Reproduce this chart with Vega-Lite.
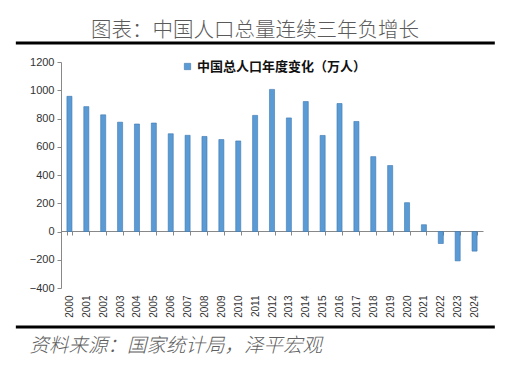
{
  "$schema": "https://vega.github.io/schema/vega-lite/v6.json",
  "autosize": "none",
  "width": 422,
  "height": 226,
  "padding": {"left": 61, "top": 62, "right": 28, "bottom": 77},
  "background": "white",
  "title": {
    "text": "图表：中国人口总量连续三年负增长",
    "font": "Noto Sans CJK SC",
    "fontSize": 20.5,
    "fontWeight": 300,
    "color": "#5a5a5a",
    "anchor": "middle",
    "frame": "group",
    "dx": -17,
    "dy": 26,
    "offset": 26
  },
  "config": {"view": {"stroke": null}},
  "data": {
    "values": [
      {"year": "2000", "value": 957},
      {"year": "2001", "value": 884},
      {"year": "2002", "value": 826},
      {"year": "2003", "value": 774},
      {"year": "2004", "value": 761},
      {"year": "2005", "value": 768},
      {"year": "2006", "value": 692},
      {"year": "2007", "value": 681},
      {"year": "2008", "value": 673},
      {"year": "2009", "value": 651},
      {"year": "2010", "value": 641},
      {"year": "2011", "value": 822},
      {"year": "2012", "value": 1006},
      {"year": "2013", "value": 804},
      {"year": "2014", "value": 920},
      {"year": "2015", "value": 680},
      {"year": "2016", "value": 906},
      {"year": "2017", "value": 779},
      {"year": "2018", "value": 530},
      {"year": "2019", "value": 467},
      {"year": "2020", "value": 204},
      {"year": "2021", "value": 48},
      {"year": "2022", "value": -85},
      {"year": "2023", "value": -208},
      {"year": "2024", "value": -139}
    ]
  },
  "layer": [
    {
      "mark": {"type": "bar", "stroke": "#3D77AE", "strokeWidth": 0.6},
      "encoding": {
        "x": {
          "field": "year",
          "type": "ordinal",
          "scale": {"paddingInner": 0.7, "paddingOuter": 0.35},
          "axis": {
            "offset": -57,
            "tickBand": "extent",
            "domainColor": "#888888",
            "tickColor": "#888888",
            "tickSize": 4,
            "labelAngle": -90,
            "labelFont": "Liberation Sans",
            "labelFontSize": 10,
            "labelColor": "#333333",
            "labelPadding": 60,
            "title": "资料来源：国家统计局，泽平宏观",
            "titleFont": "Noto Sans CJK SC",
            "titleFontSize": 19.5,
            "titleFontWeight": 300,
            "titleFontStyle": "italic",
            "titleColor": "#606060",
            "titleAnchor": "start",
            "titleAlign": "left",
            "titleBaseline": "alphabetic",
            "titleX": -32,
            "titleY": 120
          }
        },
        "y": {
          "field": "value",
          "type": "quantitative",
          "scale": {"domain": [-400, 1200], "nice": false},
          "axis": {
            "title": null,
            "values": [-400, -200, 0, 200, 400, 600, 800, 1000, 1200],
            "format": "d",
            "labelOverlap": false,
            "grid": false,
            "domainColor": "#888888",
            "tickColor": "#888888",
            "tickSize": 4,
            "labelFont": "Liberation Sans",
            "labelFontSize": 11,
            "labelColor": "#333333",
            "labelPadding": 3
          }
        },
        "color": {
          "datum": "中国总人口年度变化（万人）",
          "scale": {"range": ["#5B9BD5"]},
          "legend": {
            "title": null,
            "orient": "none",
            "legendX": 120,
            "legendY": -2,
            "symbolType": "square",
            "symbolSize": 40,
            "symbolStrokeColor": "#3D77AE",
            "symbolStrokeWidth": 0.6,
            "labelFont": "Noto Sans CJK SC",
            "labelFontSize": 13,
            "labelFontWeight": "bold",
            "labelColor": "#111111",
            "labelOffset": 3,
            "labelLimit": 300
          }
        }
      }
    },
    {
      "data": {"values": [{}]},
      "mark": {"type": "rule", "strokeWidth": 3, "color": "#000000"},
      "encoding": {
        "x": {"datum": -0.107, "type": "quantitative", "scale": {"domain": [0, 1]}, "axis": null},
        "x2": {"datum": 1.028},
        "y": {"datum": 1334, "type": "quantitative", "axis": null}
      }
    },
    {
      "data": {"values": [{}]},
      "mark": {"type": "rule", "strokeWidth": 3, "color": "#000000"},
      "encoding": {
        "x": {"datum": -0.107, "type": "quantitative", "scale": {"domain": [0, 1]}, "axis": null},
        "x2": {"datum": 1.028},
        "y": {"datum": -676, "type": "quantitative", "axis": null}
      }
    }
  ],
  "resolve": {"scale": {"x": "independent"}, "axis": {"x": "independent", "y": "independent"}}
}
